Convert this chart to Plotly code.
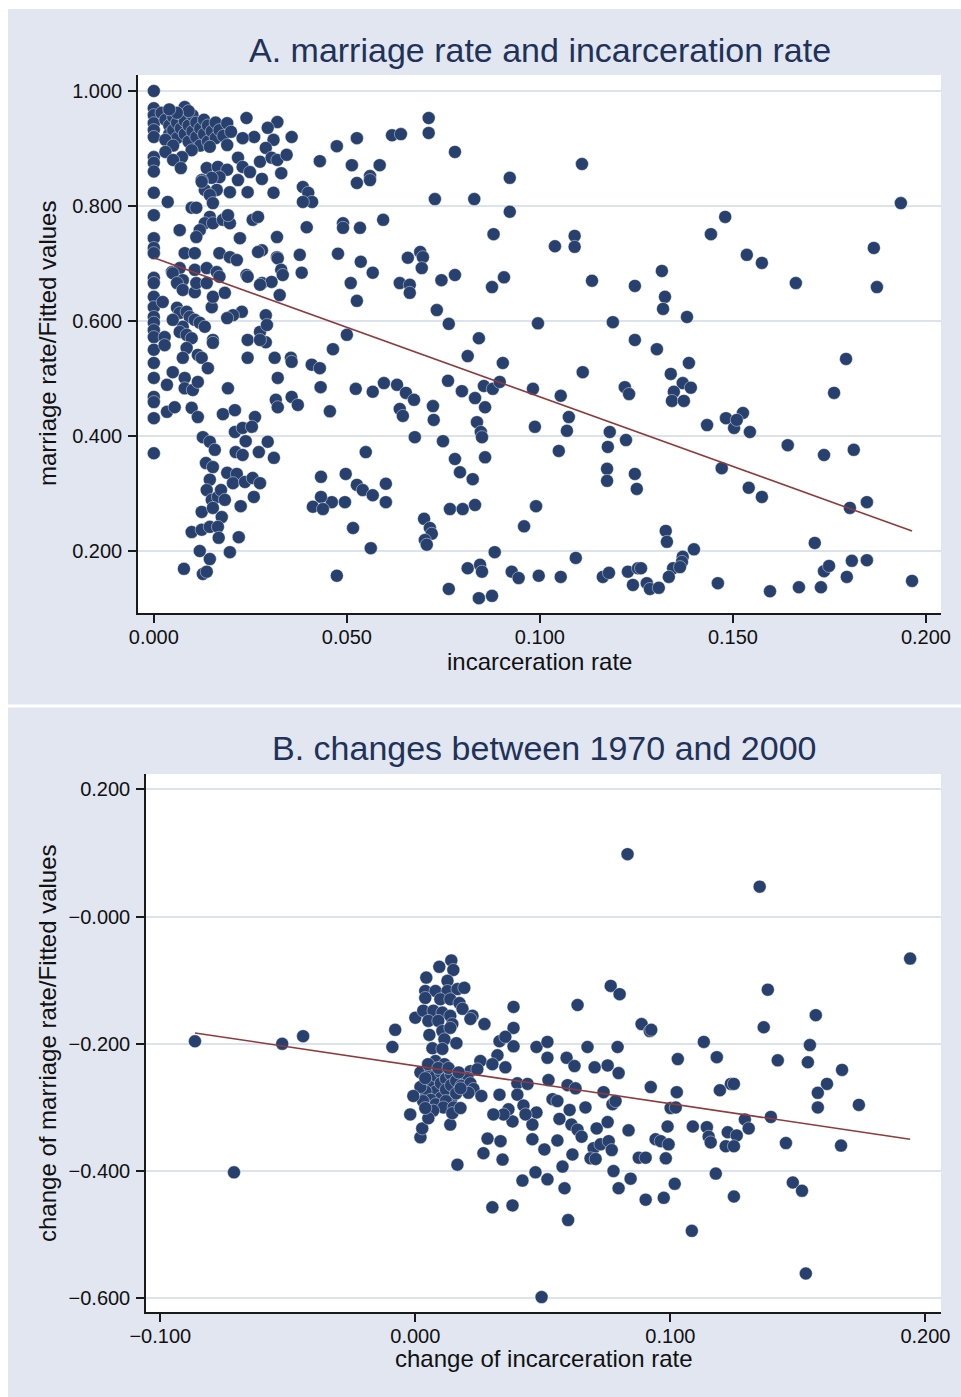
import plotly.graph_objects as go

# ---------------- Panel A data: (incarceration rate, marriage rate) ----------------
points_a = [
    # column at zero incarceration
    (0, 1.000), (0, 0.970), (0, 0.958), (0, 0.944), (0, 0.932), (0, 0.920), (0, 0.885), (0, 0.875),
    (0, 0.860), (0, 0.823), (0, 0.784), (0, 0.744), (0, 0.727), (0, 0.718), (0, 0.675), (0, 0.666),
    (0, 0.642), (0, 0.624), (0, 0.607), (0, 0.597), (0, 0.584), (0, 0.572), (0, 0.550), (0, 0.527),
    (0, 0.501), (0, 0.468), (0, 0.459), (0, 0.431), (0, 0.370),
    # dense top-left cluster
    (0.002, 0.962), (0.003, 0.950), (0.004, 0.940), (0.004, 0.925), (0.005, 0.955), (0.005, 0.932),
    (0.006, 0.945), (0.006, 0.918), (0.007, 0.960), (0.007, 0.935), (0.008, 0.972), (0.008, 0.948),
    (0.008, 0.925), (0.009, 0.940), (0.009, 0.912), (0.010, 0.958), (0.010, 0.930), (0.011, 0.945),
    (0.011, 0.920), (0.012, 0.935), (0.012, 0.905), (0.013, 0.950), (0.013, 0.925), (0.014, 0.940),
    (0.014, 0.912), (0.015, 0.930), (0.016, 0.945), (0.016, 0.918), (0.017, 0.932), (0.018, 0.922),
    (0.003, 0.915), (0.005, 0.905), (0.009, 0.965), (0.006, 0.962), (0.004, 0.968),
    (0.024, 0.953), (0.019, 0.944), (0.032, 0.946), (0.0295, 0.936), (0.0357, 0.920), (0.026, 0.920),
    (0.031, 0.915), (0.020, 0.929), (0.023, 0.918), (0.019, 0.906), (0.0145, 0.903), (0.0098, 0.897),
    (0.0073, 0.885), (0.003, 0.894), (0.005, 0.880), (0.007, 0.866), (0.0137, 0.866), (0.0166, 0.868),
    (0.019, 0.863), (0.017, 0.850), (0.015, 0.849), (0.0124, 0.845), (0.0218, 0.884), (0.023, 0.868),
    (0.0249, 0.859), (0.0275, 0.877), (0.029, 0.901), (0.0305, 0.884), (0.032, 0.880), (0.0344, 0.889),
    (0.033, 0.857), (0.028, 0.847), (0.0218, 0.845), (0.0386, 0.833), (0.040, 0.823), (0.041, 0.807),
    (0.0386, 0.807), (0.043, 0.878), (0.031, 0.823), (0.0243, 0.824), (0.0197, 0.824), (0.0163, 0.828),
    (0.0132, 0.828), (0.0124, 0.842), (0.0145, 0.819), (0.0153, 0.805), (0.0036, 0.807), (0.0098, 0.797),
    (0.011, 0.797), (0.0145, 0.781), (0.0132, 0.770), (0.0119, 0.758), (0.011, 0.746), (0.0067, 0.758),
    (0.0153, 0.770), (0.0179, 0.776), (0.0197, 0.770), (0.0256, 0.776), (0.027, 0.781), (0.0192, 0.784),
    (0.0223, 0.744), (0.028, 0.723), (0.0319, 0.746), (0.0378, 0.715), (0.0383, 0.684), (0.008, 0.718),
    (0.0106, 0.718), (0.017, 0.718), (0.0197, 0.711), (0.0215, 0.706), (0.027, 0.720), (0.0319, 0.711),
    (0.0047, 0.685), (0.0067, 0.692), (0.0106, 0.689), (0.0137, 0.692), (0.0163, 0.685), (0.024, 0.680),
    # upper middle
    (0.0474, 0.904), (0.0513, 0.871), (0.0526, 0.918), (0.0526, 0.840), (0.056, 0.852), (0.056, 0.845),
    (0.0585, 0.871), (0.0617, 0.923), (0.064, 0.925), (0.0712, 0.953), (0.0712, 0.927), (0.078, 0.894),
    (0.0728, 0.812), (0.083, 0.812), (0.0396, 0.763), (0.049, 0.770), (0.049, 0.762), (0.0534, 0.762),
    (0.0594, 0.776), (0.0477, 0.717), (0.0536, 0.703), (0.0567, 0.684), (0.051, 0.666), (0.0526, 0.635),
    (0.050, 0.576), (0.0637, 0.666), (0.0663, 0.663), (0.0663, 0.649), (0.0658, 0.710), (0.069, 0.720),
    (0.0697, 0.711), (0.0694, 0.692), (0.0745, 0.671), (0.078, 0.680), (0.0733, 0.619), (0.0764, 0.595),
    (0.0321, 0.709), (0.033, 0.689), (0.0334, 0.680), (0.0326, 0.645), (0.0243, 0.677), (0.028, 0.666),
    (0.0305, 0.668), (0.029, 0.610), (0.0275, 0.581), (0.0228, 0.616), (0.0205, 0.610), (0.019, 0.605),
    (0.015, 0.624), (0.0153, 0.642), (0.0184, 0.649), (0.0243, 0.567), (0.029, 0.563),
    (0.0922, 0.849), (0.0922, 0.790), (0.1109, 0.873), (0.088, 0.751), (0.0876, 0.659), (0.0907, 0.676),
    (0.1039, 0.730), (0.109, 0.748), (0.109, 0.729), (0.1135, 0.670), (0.1246, 0.661), (0.0995, 0.596),
    (0.1189, 0.598), (0.1246, 0.567), (0.0842, 0.570),
    # middle band
    (0.0464, 0.551), (0.0813, 0.539), (0.0904, 0.527), (0.1111, 0.511), (0.0523, 0.482), (0.0567, 0.477),
    (0.0596, 0.492), (0.063, 0.489), (0.0653, 0.475), (0.0674, 0.463), (0.0637, 0.447), (0.0645, 0.435),
    (0.0723, 0.452), (0.0725, 0.428), (0.0676, 0.398), (0.0749, 0.391), (0.0762, 0.496), (0.0798, 0.478),
    (0.0832, 0.466), (0.0855, 0.487), (0.0878, 0.482), (0.0896, 0.494), (0.0858, 0.450), (0.0837, 0.424),
    (0.0847, 0.407), (0.085, 0.398), (0.0858, 0.363), (0.078, 0.360), (0.0793, 0.337), (0.0826, 0.325),
    (0.0982, 0.482), (0.1054, 0.470), (0.1075, 0.433), (0.107, 0.409), (0.0987, 0.416), (0.1049, 0.374),
    (0.1181, 0.407), (0.1176, 0.381), (0.1223, 0.393), (0.122, 0.485), (0.1231, 0.473), (0.1174, 0.343),
    (0.1174, 0.322), (0.1246, 0.334), (0.1251, 0.308), (0.0456, 0.443), (0.0461, 0.285), (0.0495, 0.285),
    (0.0549, 0.372), (0.0497, 0.334), (0.0526, 0.315), (0.0541, 0.306), (0.0567, 0.297), (0.0601, 0.317),
    (0.0601, 0.285), (0.0516, 0.240), (0.0562, 0.205), (0.0474, 0.157), (0.070, 0.256), (0.0715, 0.240),
    (0.072, 0.230), (0.0702, 0.219), (0.0707, 0.211), (0.0767, 0.273), (0.080, 0.273), (0.0832, 0.280),
    (0.099, 0.278), (0.0959, 0.243), (0.0883, 0.198), (0.1093, 0.188), (0.0813, 0.170), (0.0845, 0.176),
    (0.085, 0.164), (0.0927, 0.164), (0.0945, 0.153), (0.0997, 0.157), (0.1054, 0.155), (0.1163, 0.155),
    (0.1179, 0.162), (0.1228, 0.164), (0.1254, 0.170), (0.1241, 0.141), (0.0764, 0.134), (0.0842, 0.118),
    (0.0876, 0.122),
    # right side
    (0.1935, 0.805), (0.148, 0.781), (0.1443, 0.751), (0.1536, 0.715), (0.1575, 0.701), (0.1663, 0.666),
    (0.1865, 0.727), (0.1873, 0.659), (0.1316, 0.687), (0.1324, 0.642), (0.1319, 0.621), (0.1381, 0.607),
    (0.1303, 0.551), (0.1386, 0.527), (0.1339, 0.508), (0.137, 0.492), (0.1391, 0.484), (0.1347, 0.477),
    (0.1342, 0.461), (0.1373, 0.461), (0.1793, 0.534), (0.1762, 0.475), (0.1433, 0.419), (0.1482, 0.431),
    (0.1503, 0.414), (0.1526, 0.440), (0.151, 0.428), (0.1544, 0.407), (0.1642, 0.384), (0.1736, 0.367),
    (0.1813, 0.376), (0.1471, 0.344), (0.1541, 0.310), (0.1575, 0.294), (0.1803, 0.275), (0.1847, 0.285),
    (0.1326, 0.235), (0.1329, 0.216), (0.1399, 0.203), (0.137, 0.190), (0.1368, 0.181), (0.1345, 0.170),
    (0.1363, 0.172), (0.1334, 0.155), (0.1262, 0.170), (0.1277, 0.144), (0.1285, 0.134), (0.1308, 0.136),
    (0.1461, 0.144), (0.1596, 0.130), (0.1671, 0.137), (0.1728, 0.137), (0.1712, 0.214), (0.1736, 0.165),
    (0.1749, 0.174), (0.1795, 0.155), (0.1808, 0.183), (0.1847, 0.184), (0.1964, 0.148),
    # lower-left cluster
    (0.0049, 0.683), (0.0075, 0.671), (0.006, 0.666), (0.0075, 0.654), (0.0106, 0.650), (0.011, 0.666),
    (0.0137, 0.666), (0.017, 0.677), (0.0275, 0.663), (0.0023, 0.633), (0.006, 0.623), (0.0067, 0.614),
    (0.0085, 0.616), (0.0093, 0.607), (0.0106, 0.602), (0.0119, 0.597), (0.0132, 0.590), (0.0075, 0.590),
    (0.0067, 0.581), (0.0085, 0.576), (0.0098, 0.570), (0.0028, 0.572), (0.0028, 0.558), (0.0049, 0.602),
    (0.0293, 0.593), (0.0275, 0.567), (0.0243, 0.536), (0.0153, 0.567), (0.0153, 0.562), (0.0085, 0.553),
    (0.0075, 0.536), (0.0114, 0.541), (0.0124, 0.536), (0.014, 0.518), (0.0192, 0.483), (0.0313, 0.536),
    (0.0355, 0.536), (0.0357, 0.529), (0.0409, 0.524), (0.043, 0.518), (0.0432, 0.485), (0.0321, 0.501),
    (0.0316, 0.463), (0.0321, 0.450), (0.0357, 0.468), (0.0373, 0.454), (0.0049, 0.511), (0.0034, 0.489),
    (0.008, 0.501), (0.008, 0.483), (0.0101, 0.480), (0.0114, 0.494), (0.0034, 0.442), (0.0054, 0.450),
    (0.0098, 0.449), (0.0114, 0.433), (0.0179, 0.438), (0.021, 0.445), (0.0262, 0.433), (0.0127, 0.398),
    (0.0145, 0.390), (0.0158, 0.376), (0.021, 0.407), (0.023, 0.414), (0.0254, 0.416), (0.0238, 0.391),
    (0.0212, 0.372), (0.023, 0.367), (0.0272, 0.372), (0.0295, 0.390), (0.0311, 0.362), (0.0135, 0.353),
    (0.0153, 0.346), (0.0145, 0.324), (0.0137, 0.306), (0.015, 0.289), (0.0166, 0.294), (0.019, 0.336),
    (0.0215, 0.334), (0.0205, 0.318), (0.0236, 0.320), (0.0256, 0.327), (0.0275, 0.318), (0.0174, 0.306),
    (0.0184, 0.289), (0.0259, 0.294), (0.0225, 0.278), (0.0124, 0.268), (0.0153, 0.275), (0.0176, 0.259),
    (0.0098, 0.233), (0.0124, 0.237), (0.0145, 0.242), (0.0166, 0.242), (0.0168, 0.223), (0.022, 0.224),
    (0.0119, 0.200), (0.0197, 0.198), (0.0145, 0.186), (0.0078, 0.169), (0.0127, 0.160), (0.0137, 0.164),
    (0.0433, 0.329), (0.0433, 0.294), (0.0412, 0.277), (0.0438, 0.273),
]

# fitted line of panel A
fit_a_intercept = 0.710
fit_a_slope = -2.42

# ---------------- Panel B data: (change of incarceration, change of marriage) ----------------
points_b = [
    (-0.0864, -0.196), (-0.0711, -0.402), (-0.0522, -0.200), (-0.044, -0.188), (0.0832, 0.098),
    (0.135, 0.047), (0.194, -0.066), (0.0495, -0.598), (0.1531, -0.561), (0.1084, -0.494),
    (-0.009, -0.205), (-0.0079, -0.178), (-0.002, -0.311), (0.002, -0.347),
    (0.0141, -0.069), (0.0094, -0.079), (0.0149, -0.084), (0.0043, -0.096), (0.0039, -0.117),
    (0.0079, -0.117), (0.0126, -0.101), (0.0126, -0.117), (0.0165, -0.114), (0.0192, -0.112),
    (0.0039, -0.128), (0.0098, -0.130), (0.0137, -0.130), (0.0173, -0.136), (0.0185, -0.145),
    (0.000, -0.159), (0.0031, -0.148), (0.0071, -0.148), (0.0106, -0.151), (0.0137, -0.156),
    (0.0051, -0.164), (0.009, -0.164), (0.0145, -0.169), (0.0224, -0.156), (0.0216, -0.161),
    (0.0271, -0.169), (0.0055, -0.186), (0.0106, -0.180), (0.0137, -0.175), (0.0114, -0.193),
    (0.0067, -0.207), (0.0106, -0.208), (0.0161, -0.199), (0.0385, -0.142), (0.0385, -0.175),
    (0.0385, -0.204), (0.033, -0.196), (0.0353, -0.189), (0.0475, -0.205), (0.0518, -0.197),
    (0.0518, -0.222), (0.0636, -0.139), (0.0766, -0.109), (0.0801, -0.122), (0.0675, -0.205),
    (0.0793, -0.205), (0.0887, -0.169), (0.0919, -0.180), (0.0925, -0.178), (0.0593, -0.222),
    (0.0624, -0.235), (0.0703, -0.237), (0.0754, -0.234), (0.0797, -0.246), (0.0322, -0.218),
    (0.0255, -0.227), (0.0302, -0.232), (0.0353, -0.237), (0.0216, -0.243), (0.0204, -0.254),
    (0.0243, -0.240), (0.0079, -0.227), (0.0114, -0.232),
    # dense cluster near zero
    (0.002, -0.245), (0.004, -0.255), (0.006, -0.240), (0.006, -0.265), (0.008, -0.250), (0.008, -0.275),
    (0.010, -0.245), (0.010, -0.262), (0.010, -0.285), (0.012, -0.255), (0.012, -0.272), (0.014, -0.248),
    (0.014, -0.265), (0.014, -0.290), (0.016, -0.258), (0.016, -0.278), (0.018, -0.266), (0.004, -0.275),
    (0.006, -0.288), (0.008, -0.295), (0.012, -0.290), (0.002, -0.268), (0.005, -0.232), (0.009, -0.238),
    (0.013, -0.238), (0.017, -0.245), (0.011, -0.300), (0.015, -0.300), (0.007, -0.305), (0.003, -0.290),
    (-0.0008, -0.282), (0.0039, -0.254), (0.0027, -0.333), (0.0051, -0.317), (0.0039, -0.301),
    (0.0137, -0.327), (0.0145, -0.309), (0.0177, -0.301), (0.0165, -0.390),
    # spread to the right
    (0.0216, -0.262), (0.0228, -0.271), (0.0259, -0.282), (0.0208, -0.277), (0.0177, -0.270),
    (0.033, -0.280), (0.040, -0.262), (0.044, -0.263), (0.040, -0.280), (0.0424, -0.297),
    (0.0522, -0.257), (0.0538, -0.287), (0.0557, -0.290), (0.0597, -0.265), (0.0628, -0.270),
    (0.0667, -0.300), (0.0738, -0.276), (0.0773, -0.295), (0.0785, -0.290), (0.0923, -0.268),
    (0.0605, -0.304), (0.0565, -0.318), (0.0475, -0.308), (0.0459, -0.327), (0.0432, -0.311),
    (0.0381, -0.322), (0.0365, -0.303), (0.0346, -0.311), (0.0306, -0.311), (0.0612, -0.327),
    (0.0636, -0.335), (0.0652, -0.346), (0.0711, -0.333), (0.0754, -0.323), (0.0836, -0.336),
    (0.0459, -0.350), (0.0557, -0.352), (0.0506, -0.366), (0.0616, -0.374), (0.0577, -0.393),
    (0.0699, -0.364), (0.0726, -0.358), (0.0758, -0.353), (0.077, -0.367), (0.0687, -0.380),
    (0.0707, -0.381), (0.0283, -0.349), (0.0334, -0.353), (0.0267, -0.372), (0.0342, -0.382),
    (0.0471, -0.402), (0.042, -0.415), (0.0518, -0.413), (0.0585, -0.427), (0.0302, -0.457),
    (0.0381, -0.454), (0.0599, -0.477), (0.0777, -0.400), (0.0797, -0.427), (0.0844, -0.412),
    (0.0903, -0.445), (0.0974, -0.442), (0.0876, -0.379), (0.0903, -0.379), (0.0982, -0.380),
    (0.0942, -0.350), (0.0962, -0.353), (0.0989, -0.330), (0.1001, -0.301),
    (0.1382, -0.115), (0.157, -0.155), (0.1366, -0.174), (0.1131, -0.197), (0.1182, -0.221),
    (0.1029, -0.224), (0.1547, -0.202), (0.1539, -0.229), (0.1421, -0.226), (0.1673, -0.241),
    (0.1614, -0.263), (0.1578, -0.277), (0.1578, -0.300), (0.1739, -0.296), (0.1237, -0.263),
    (0.1249, -0.263), (0.1194, -0.273), (0.1394, -0.315), (0.1292, -0.319), (0.1307, -0.333),
    (0.1025, -0.276), (0.1021, -0.300), (0.1088, -0.330), (0.1143, -0.331), (0.115, -0.346),
    (0.1158, -0.355), (0.1225, -0.339), (0.126, -0.344), (0.1217, -0.361), (0.1249, -0.361),
    (0.0993, -0.358), (0.1453, -0.356), (0.1669, -0.360), (0.1017, -0.420), (0.1178, -0.404),
    (0.1249, -0.440), (0.148, -0.418), (0.1516, -0.431),
]

fit_b_intercept = -0.2345
fit_b_slope = -0.596

# tick labels
a_xticks = [0.0, 0.05, 0.10, 0.15, 0.20]
a_xticklabels = ["0.000", "0.050", "0.100", "0.150", "0.200"]
a_yticks = [0.2, 0.4, 0.6, 0.8, 1.0]
a_yticklabels = ["0.200", "0.400", "0.600", "0.800", "1.000"]
b_xticks = [-0.1, 0.0, 0.1, 0.2]
b_xticklabels = ["\u22120.100", "0.000", "0.100", "0.200"]
b_yticks = [-0.6, -0.4, -0.2, 0.0, 0.2]
b_yticklabels = ["\u22120.600", "\u22120.400", "\u22120.200", "\u22120.000", "0.200"]

incarceration_rate = [p[0] for p in points_a]
marriage_rate = [p[1] for p in points_a]
change_incarceration = [p[0] for p in points_b]
change_marriage = [p[1] for p in points_b]

W, H = 961, 1397
BG = "#E1E6F0"
NAVY = "#27406E"
MAROON = "#903A3C"
TITLE = "#1F3259"
FONT = "Liberation Sans, Arial, Helvetica, sans-serif"


def px(v):
    return v / W


def py(v):
    return 1 - v / H


fig = go.Figure()

fig.add_trace(go.Scatter(
    x=incarceration_rate, y=marriage_rate, mode="markers", xaxis="x", yaxis="y",
    marker=dict(size=13, color=NAVY, line=dict(width=0.6, color="rgba(255,255,255,0.7)")),
    showlegend=False, hoverinfo="x+y"))
xa0, xa1 = min(incarceration_rate), max(incarceration_rate)
fig.add_trace(go.Scatter(
    x=[xa0, xa1], y=[fit_a_intercept + fit_a_slope * xa0, fit_a_intercept + fit_a_slope * xa1],
    mode="lines", xaxis="x", yaxis="y", line=dict(color=MAROON, width=1.6), showlegend=False))

fig.add_trace(go.Scatter(
    x=change_incarceration, y=change_marriage, mode="markers", xaxis="x2", yaxis="y2",
    marker=dict(size=13, color=NAVY, line=dict(width=0.6, color="rgba(255,255,255,0.7)")),
    showlegend=False, hoverinfo="x+y"))
xb0, xb1 = min(change_incarceration), max(change_incarceration)
fig.add_trace(go.Scatter(
    x=[xb0, xb1], y=[fit_b_intercept + fit_b_slope * xb0, fit_b_intercept + fit_b_slope * xb1],
    mode="lines", xaxis="x2", yaxis="y2", line=dict(color=MAROON, width=1.6), showlegend=False))

axis_common = dict(
    showline=True, linecolor="#1a1a1a", linewidth=1.5, ticks="outside", ticklen=8, tickwidth=1.5,
    tickcolor="#1a1a1a", tickfont=dict(size=20, color="#111111", family=FONT), zeroline=False,
    mirror=False, fixedrange=True, automargin=False,
)
xaxis_common = dict(axis_common, ticklabelstandoff=-3)
yaxis_common = dict(axis_common, ticklabelstandoff=2)

fig.update_layout(
    width=W, height=H, autosize=False,
    margin=dict(l=0, r=0, t=0, b=0, pad=0, autoexpand=False),
    paper_bgcolor=BG, plot_bgcolor="white", font=dict(family=FONT),
    xaxis=dict(domain=[px(138), px(941)], range=[-0.0041, 0.2039], anchor="y",
               tickvals=a_xticks, ticktext=a_xticklabels, showgrid=False, **xaxis_common),
    yaxis=dict(domain=[py(613), py(75)], range=[0.0922, 1.0278], anchor="x",
               tickvals=a_yticks, ticktext=a_yticklabels, showgrid=True, gridcolor="#DDE3EE",
               gridwidth=2, **yaxis_common),
    xaxis2=dict(domain=[px(146), px(941)], range=[-0.1056, 0.2061], anchor="y2",
                tickvals=b_xticks, ticktext=b_xticklabels, showgrid=False, **xaxis_common),
    yaxis2=dict(domain=[py(1312), py(774)], range=[-0.6215, 0.224], anchor="x2",
                tickvals=b_yticks, ticktext=b_yticklabels, showgrid=True, gridcolor="#DDE3EE",
                gridwidth=2, **yaxis_common),
    shapes=[
        # white outer border and separator between panels
        dict(type="rect", xref="paper", yref="paper", x0=0, x1=px(8), y0=0, y1=1,
             fillcolor="white", line=dict(width=0), layer="below"),
        dict(type="rect", xref="paper", yref="paper", x0=0, x1=1, y0=py(9), y1=1,
             fillcolor="white", line=dict(width=0), layer="below"),
        dict(type="rect", xref="paper", yref="paper", x0=0, x1=1, y0=py(707.5), y1=py(704.5),
             fillcolor="white", line=dict(width=0), layer="below"),
    ],
    annotations=[
        dict(text="A. marriage rate and incarceration rate", x=px(539.5), y=py(50), xref="paper",
             yref="paper", xanchor="center", yanchor="middle", showarrow=False,
             font=dict(size=34, color=TITLE, family=FONT)),
        dict(text="incarceration rate", x=px(539.5), y=py(661), xref="paper", yref="paper",
             xanchor="center", yanchor="middle", showarrow=False,
             font=dict(size=24, color="#111111", family=FONT)),
        dict(text="marriage rate/Fitted values", x=px(47), y=py(344), xref="paper", yref="paper",
             xanchor="center", yanchor="middle", showarrow=False, textangle=-90,
             font=dict(size=24, color="#111111", family=FONT)),
        dict(text="B. changes between 1970 and 2000", x=px(543.5), y=py(748), xref="paper",
             yref="paper", xanchor="center", yanchor="middle", showarrow=False,
             font=dict(size=34, color=TITLE, family=FONT)),
        dict(text="change of incarceration rate", x=px(543.5), y=py(1358), xref="paper",
             yref="paper", xanchor="center", yanchor="middle", showarrow=False,
             font=dict(size=24, color="#111111", family=FONT)),
        dict(text="change of marriage rate/Fitted values", x=px(47), y=py(1043), xref="paper",
             yref="paper", xanchor="center", yanchor="middle", showarrow=False, textangle=-90,
             font=dict(size=24, color="#111111", family=FONT)),
    ],
)

page_fix = (
    "document.documentElement.style.margin='0';"
    "document.documentElement.style.overflow='hidden';"
    "document.body.style.margin='0';"
    "document.body.style.padding='0';"
    "document.body.style.overflow='hidden';"
)

fig.write_html("out.html", config={"responsive": False, "displayModeBar": False},
               post_script=page_fix)
